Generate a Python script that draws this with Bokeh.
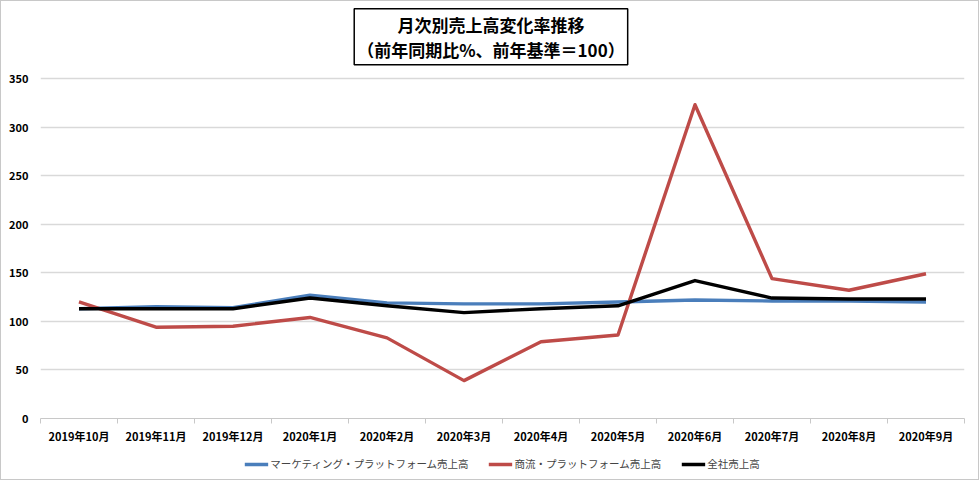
import numpy as np
from bokeh.plotting import figure
from bokeh.models import (Range1d, FixedTicker, Legend, LegendItem, LinearAxis, Label)
from bokeh.embed import file_html
from bokeh.resources import INLINE

months = ["2019年10月", "2019年11月", "2019年12月", "2020年1月", "2020年2月", "2020年3月",
          "2020年4月", "2020年5月", "2020年6月", "2020年7月", "2020年8月", "2020年9月"]
marketing = [113, 115, 114, 127, 119, 118, 118, 120, 122, 121, 121, 120]
commerce = [120, 94, 95, 104, 83, 39, 79, 86, 323, 144, 132, 149]
total = [113, 113, 113, 124, 116, 109, 113, 116, 142, 124, 123, 123]
y_ticks = [0, 50, 100, 150, 200, 250, 300, 350]
title_text = "月次別売上高変化率推移\n（前年同期比%、前年基準＝100）"
series_names = ["マーケティング・プラットフォーム売上高", "商流・プラットフォーム売上高", "全社売上高"]

FONT = "Noto Sans CJK JP"
n = len(months)
xs = np.arange(n) + 0.5

# plotting frame extends above the 350 line to leave room for the boxed title
FRAME_H = 417
Y_TOP = 350 * FRAME_H / 340

p = figure(frame_width=924, frame_height=FRAME_H, output_backend="svg", toolbar_location=None,
           x_range=Range1d(0, n), y_range=Range1d(0, Y_TOP),
           min_border_left=39, min_border_right=14, min_border_top=0, min_border_bottom=20,
           x_axis_location=None, y_axis_location=None,
           styles={"border": "1px solid #c8c8c8", "height": "480px", "overflow": "hidden"})
p.outline_line_color = None
p.background_fill_color = "white"
p.border_fill_color = "white"

xaxis = LinearAxis(ticker=FixedTicker(ticks=list(xs), minor_ticks=list(np.arange(n + 1))),
                   major_label_overrides={float(x): m for x, m in zip(xs, months)})
xaxis.axis_line_color = "#c8c8c8"
xaxis.major_tick_line_color = None
xaxis.minor_tick_line_color = "#c8c8c8"
xaxis.minor_tick_out = 5
xaxis.minor_tick_in = 0
xaxis.major_label_text_font = FONT
xaxis.major_label_text_font_style = "bold"
xaxis.major_label_text_font_size = "11px"
xaxis.major_label_text_color = "black"
xaxis.major_label_standoff = 3
p.add_layout(xaxis, "below")

yaxis = LinearAxis(ticker=FixedTicker(ticks=y_ticks))
yaxis.axis_line_color = None
yaxis.major_tick_line_color = None
yaxis.minor_tick_line_color = None
yaxis.major_label_text_font = FONT
yaxis.major_label_text_font_style = "bold"
yaxis.major_label_text_font_size = "11px"
yaxis.major_label_text_color = "black"
yaxis.major_label_standoff = 6
p.add_layout(yaxis, "left")

p.xgrid.grid_line_color = None
p.ygrid.ticker = FixedTicker(ticks=y_ticks[1:])
p.ygrid.grid_line_color = "#d9d9d9"
p.ygrid.grid_line_width = 1.5

colors = ["#4A7EBB", "#BE4B48", "#000000"]
renderers = []
for vals, c in zip([marketing, commerce, total], colors):
    r = p.line(xs, vals, line_color=c, line_width=3.4, line_join="round")
    renderers.append(r)

legend = Legend(items=[LegendItem(label=nm, renderers=[r]) for nm, r in zip(series_names, renderers)],
                orientation="horizontal", location="top_center",
                label_text_font=FONT, label_text_font_size="10.5px",
                glyph_width=24, glyph_height=12, label_standoff=2, spacing=20,
                border_line_color=None, background_fill_alpha=0, padding=0, margin=0)
p.add_layout(legend, "below")

title = Label(x=n / 2 - 0.15, y=393, text=title_text, text_align="center", text_baseline="middle",
              text_font=FONT, text_font_style="bold", text_font_size="17px",
              text_line_height=1.0, text_color="black",
              border_line_color="black", border_line_width=1.5,
              background_fill_color="white", padding=3)
p.add_layout(title)

open("out.html", "w").write(file_html(p, INLINE))
